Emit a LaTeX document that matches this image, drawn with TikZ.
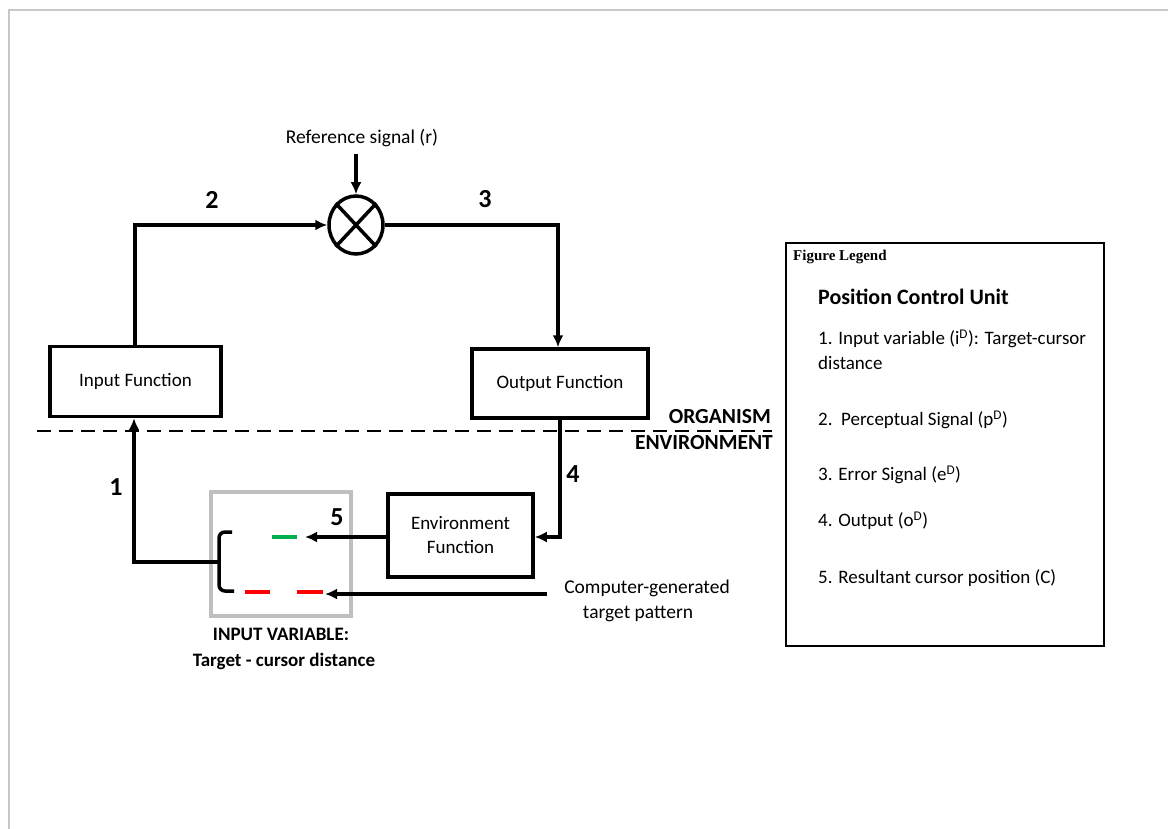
\documentclass[tikz,border=0pt]{standalone}
\usepackage{fontspec}
\setmainfont{Carlito}
\newfontfamily\legendfont{Liberation Serif}
\usetikzlibrary{arrows.meta,shapes.geometric}
\definecolor{framegray}{HTML}{C8C8C8}
\definecolor{boxgray}{HTML}{BFBFBF}
\definecolor{cursorgreen}{HTML}{00B050}
\definecolor{targetred}{HTML}{FF0000}
\tikzset{
  block/.style={draw, line width=3.5pt, minimum width=#1, inner sep=0pt, align=center, font=\fontsize{19}{24}\selectfont},
  block/.default=170pt,
  flow/.style={line width=3.5pt, -{Latex[length=12pt,width=11pt]}},
  numlabel/.style={font=\fontsize{26}{30}\selectfont\bfseries},
  plain/.style={font=\fontsize{19.5}{24}\selectfont, inner sep=0pt},
  legitem/.style={font=\fontsize{19}{23}\selectfont, anchor=west, inner sep=0pt},
  ivtext/.style={font=\fontsize{19}{23}\selectfont\bfseries, inner sep=0pt},
  sidetext/.style={font=\fontsize{21.5}{25}\selectfont\bfseries, anchor=east, inner sep=0pt},
}
\begin{document}
\begin{tikzpicture}[x=1pt,y=-1pt]
\useasboundingbox (0,0) rectangle (1168,829);
% page frame
\draw[framegray, line width=1.5pt] (9,829) -- (9,10) -- (1168,10);

% blocks
\node[block=171pt, minimum height=70pt] (inp) at (135.5,381.5) {Input Function};
\node[block=176pt, minimum height=69pt] (outp) at (560,383.5) {Output Function};
\node[block=145pt, minimum height=83pt] (env) at (460.5,535.5) {Environment\\Function};
\node[draw, ellipse, line width=3.5pt, minimum width=54pt, minimum height=58pt, inner sep=0pt] (cmp) at (356,225) {};
\draw[line width=3.5pt] (cmp.north west) -- (cmp.south east) (cmp.north east) -- (cmp.south west);

% reference input
\node[plain] (ref) at (362,138) {Reference signal (r)};
\draw[flow] (356,154) -- (cmp.north);

% loop connectors
\coordinate (c2) at (135,225);
\coordinate (c3) at (558,225);
\draw[flow] (inp.north -| c2) -- (c2) -- (cmp.west);
\draw[flow] (cmp.east) -- (c3) -- (outp.north -| c3);
\coordinate (c4) at (560,537);
\draw[flow] (outp.south -| c4) -- (c4) -- (env.east |- c4);

% organism / environment boundary
\draw[dash pattern=on 14pt off 8pt, line width=1.5pt] (37,431) -- (772,431);
\node[sidetext] (org) at (771,417) {ORGANISM};
\node[sidetext] (envl) at (773,443) {ENVIRONMENT};

% input variable display
\node[draw=boxgray, line width=4pt, minimum width=140pt, minimum height=124pt, inner sep=0pt] (iv) at (280.5,554) {};
\coordinate (brk) at (219,562);
\draw[line width=3.5pt, rounded corners=6pt] (232,532) -- (219,532) -- (219,591) -- (234,591);
\draw[cursorgreen, line width=3.5pt] (272,537) -- (297,537);
\draw[targetred, line width=3.5pt] (245,592) -- (270,592) (297,592) -- (323,592);
\coordinate (curin) at (305,537);
\coordinate (tgtin) at (325,594);
\draw[flow] (env.west |- curin) -- (curin);
\coordinate (src) at (547,594);
\draw[flow] (src) -- (tgtin);
\coordinate (c1) at (134,562);
\draw[flow] (brk) -- (c1) -- (inp.south -| c1);

\node[plain] (cg1) at (647,588) {Computer-generated};
\node[plain] (cg2) at (638,614) {target pattern};
\node[ivtext] (ivt1) at (281,634) {INPUT VARIABLE:};
\node[ivtext] (ivt2) at (284,661) {Target - cursor distance};

% signal numbers
\node[numlabel] (n1) at (116,487) {1};
\node[numlabel] (n2) at (212,200) {2};
\node[numlabel] (n3) at (485,199) {3};
\node[numlabel] (n4) at (573,474) {4};
\node[numlabel] (n5) at (337,517) {5};

% legend
\node[draw, line width=2pt, minimum width=318pt, minimum height=403pt, inner sep=0pt] (leg) at (945,444.5) {};
\node[font=\legendfont\fontsize{15}{18}\selectfont\bfseries, anchor=west, inner sep=0pt] (legt) at (793,257) {Figure Legend};
\node[font=\fontsize{22}{26}\selectfont\bfseries, anchor=west, inner sep=0pt] (pcu) at (818,297) {Position Control Unit};
\node[legitem] (l1) at (818,339) {1. Input variable (i\textsuperscript{D}): Target-cursor};
\node[legitem] (l1b) at (818,363) {distance};
\node[legitem] (l2) at (818,420) {2.\ \ Perceptual Signal (p\textsuperscript{D})};
\node[legitem] (l3) at (818,475) {3. Error Signal (e\textsuperscript{D})};
\node[legitem] (l4) at (818,521) {4. Output (o\textsuperscript{D})};
\node[legitem] (l5) at (818,578) {5. Resultant cursor position (C)};
\end{tikzpicture}
\end{document}
